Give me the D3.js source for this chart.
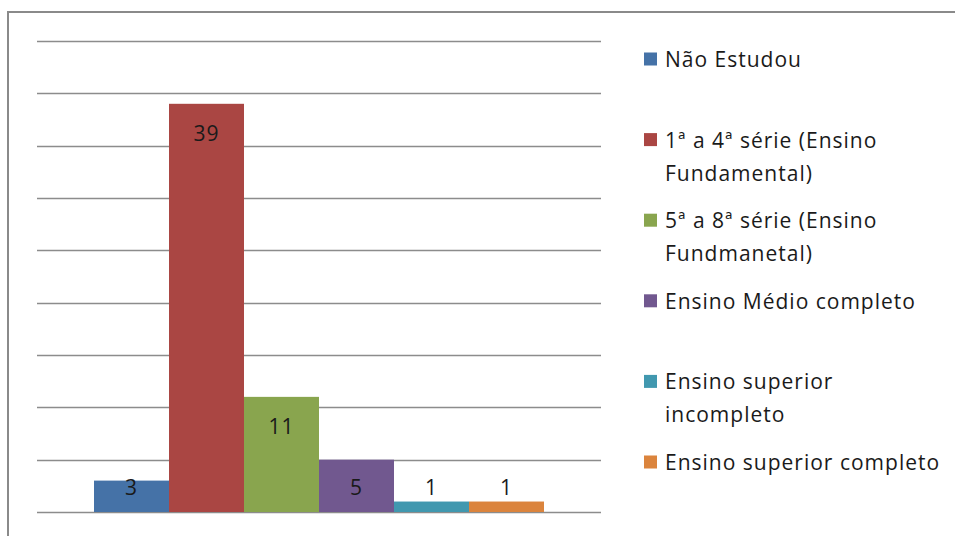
<!DOCTYPE html>
<html>
<head>
<meta charset="utf-8">
<script src="https://cdn.jsdelivr.net/npm/d3@7"></script>
<style>
  body { margin: 0; background: #fff; }
  text { font-family: "Open Sans", sans-serif; fill: #1a1a1a; letter-spacing: 1px; }
</style>
</head>
<body>
<div id="chart"></div>
<script>
var w = 955, h = 536;

// data
var categories = ["Não Estudou", "1ª a 4ª série (Ensino Fundamental)", "5ª a 8ª série (Ensino Fundmanetal)",
                  "Ensino Médio completo", "Ensino superior incompleto", "Ensino superior completo"];
var values = [3, 39, 11, 5, 1, 1];
var legendLines = [["Não Estudou"], ["1ª a 4ª série (Ensino", "Fundamental)"], ["5ª a 8ª série (Ensino", "Fundmanetal)"],
                   ["Ensino Médio completo"], ["Ensino superior", "incompleto"], ["Ensino superior completo"]];
var colors = ["#4572A7", "#AA4643", "#89A54E", "#71588F", "#4198AF", "#DB843D"];
var yTicks = [0, 5, 10, 15, 20, 25, 30, 35, 40, 45];

var svg = d3.select("#chart").append("svg")
    .attr("width", w)
    .attr("height", h);

// outer chart border (right and bottom edges fall outside the crop)
svg.append("rect")
    .attr("x", 8).attr("y", 12)
    .attr("width", 1000).attr("height", 600)
    .attr("fill", "none")
    .attr("stroke", "#8a8a8a")
    .attr("stroke-width", 2);

var plotLeft = 37, plotRight = 601, plotTop = 41, plotBottom = 512;

var y = d3.scaleLinear().domain([0, 45]).range([plotBottom, plotTop]);
var x = d3.scaleBand().domain(categories).range([plotLeft, plotRight])
    .paddingInner(0).paddingOuter(0.76);

// gridlines
svg.append("g").selectAll("line")
    .data(yTicks)
    .enter().append("line")
    .attr("x1", plotLeft).attr("x2", plotRight)
    .attr("y1", function(d) { return Math.round(y(d)) + 0.5; })
    .attr("y2", function(d) { return Math.round(y(d)) + 0.5; })
    .attr("stroke", "#8c8c8c")
    .attr("stroke-width", 1.3);

// bars
svg.append("g").selectAll("rect")
    .data(values)
    .enter().append("rect")
    .attr("x", function(d, i) { return x(categories[i]); })
    .attr("y", function(d) { return y(d); })
    .attr("width", x.bandwidth())
    .attr("height", function(d) { return plotBottom - y(d); })
    .attr("fill", function(d, i) { return colors[i]; });

// value labels, pushed up above the short bars
svg.append("g").selectAll("text")
    .data(values)
    .enter().append("text")
    .attr("x", function(d, i) { return x(categories[i]) + x.bandwidth() / 2; })
    .attr("y", function(d) { return Math.min(y(d) + 29, 487); })
    .attr("text-anchor", "middle")
    .attr("dominant-baseline", "central")
    .style("font-size", "21px")
    .text(function(d) { return d; });

// legend
var legend = svg.append("g").selectAll("g")
    .data(legendLines)
    .enter().append("g")
    .attr("transform", function(d, i) { return "translate(644," + (59 + i * 80.6) + ")"; });

legend.append("rect")
    .attr("x", 0).attr("y", -6.5)
    .attr("width", 13).attr("height", 13)
    .attr("fill", function(d, i) { return colors[i]; });

legend.each(function(lines) {
  var g = d3.select(this);
  lines.forEach(function(line, j) {
    g.append("text")
      .attr("x", 21)
      .attr("y", j * 33)
      .attr("dominant-baseline", "central")
      .style("font-size", "21px")
      .text(line);
  });
});
</script>
</body>
</html>
